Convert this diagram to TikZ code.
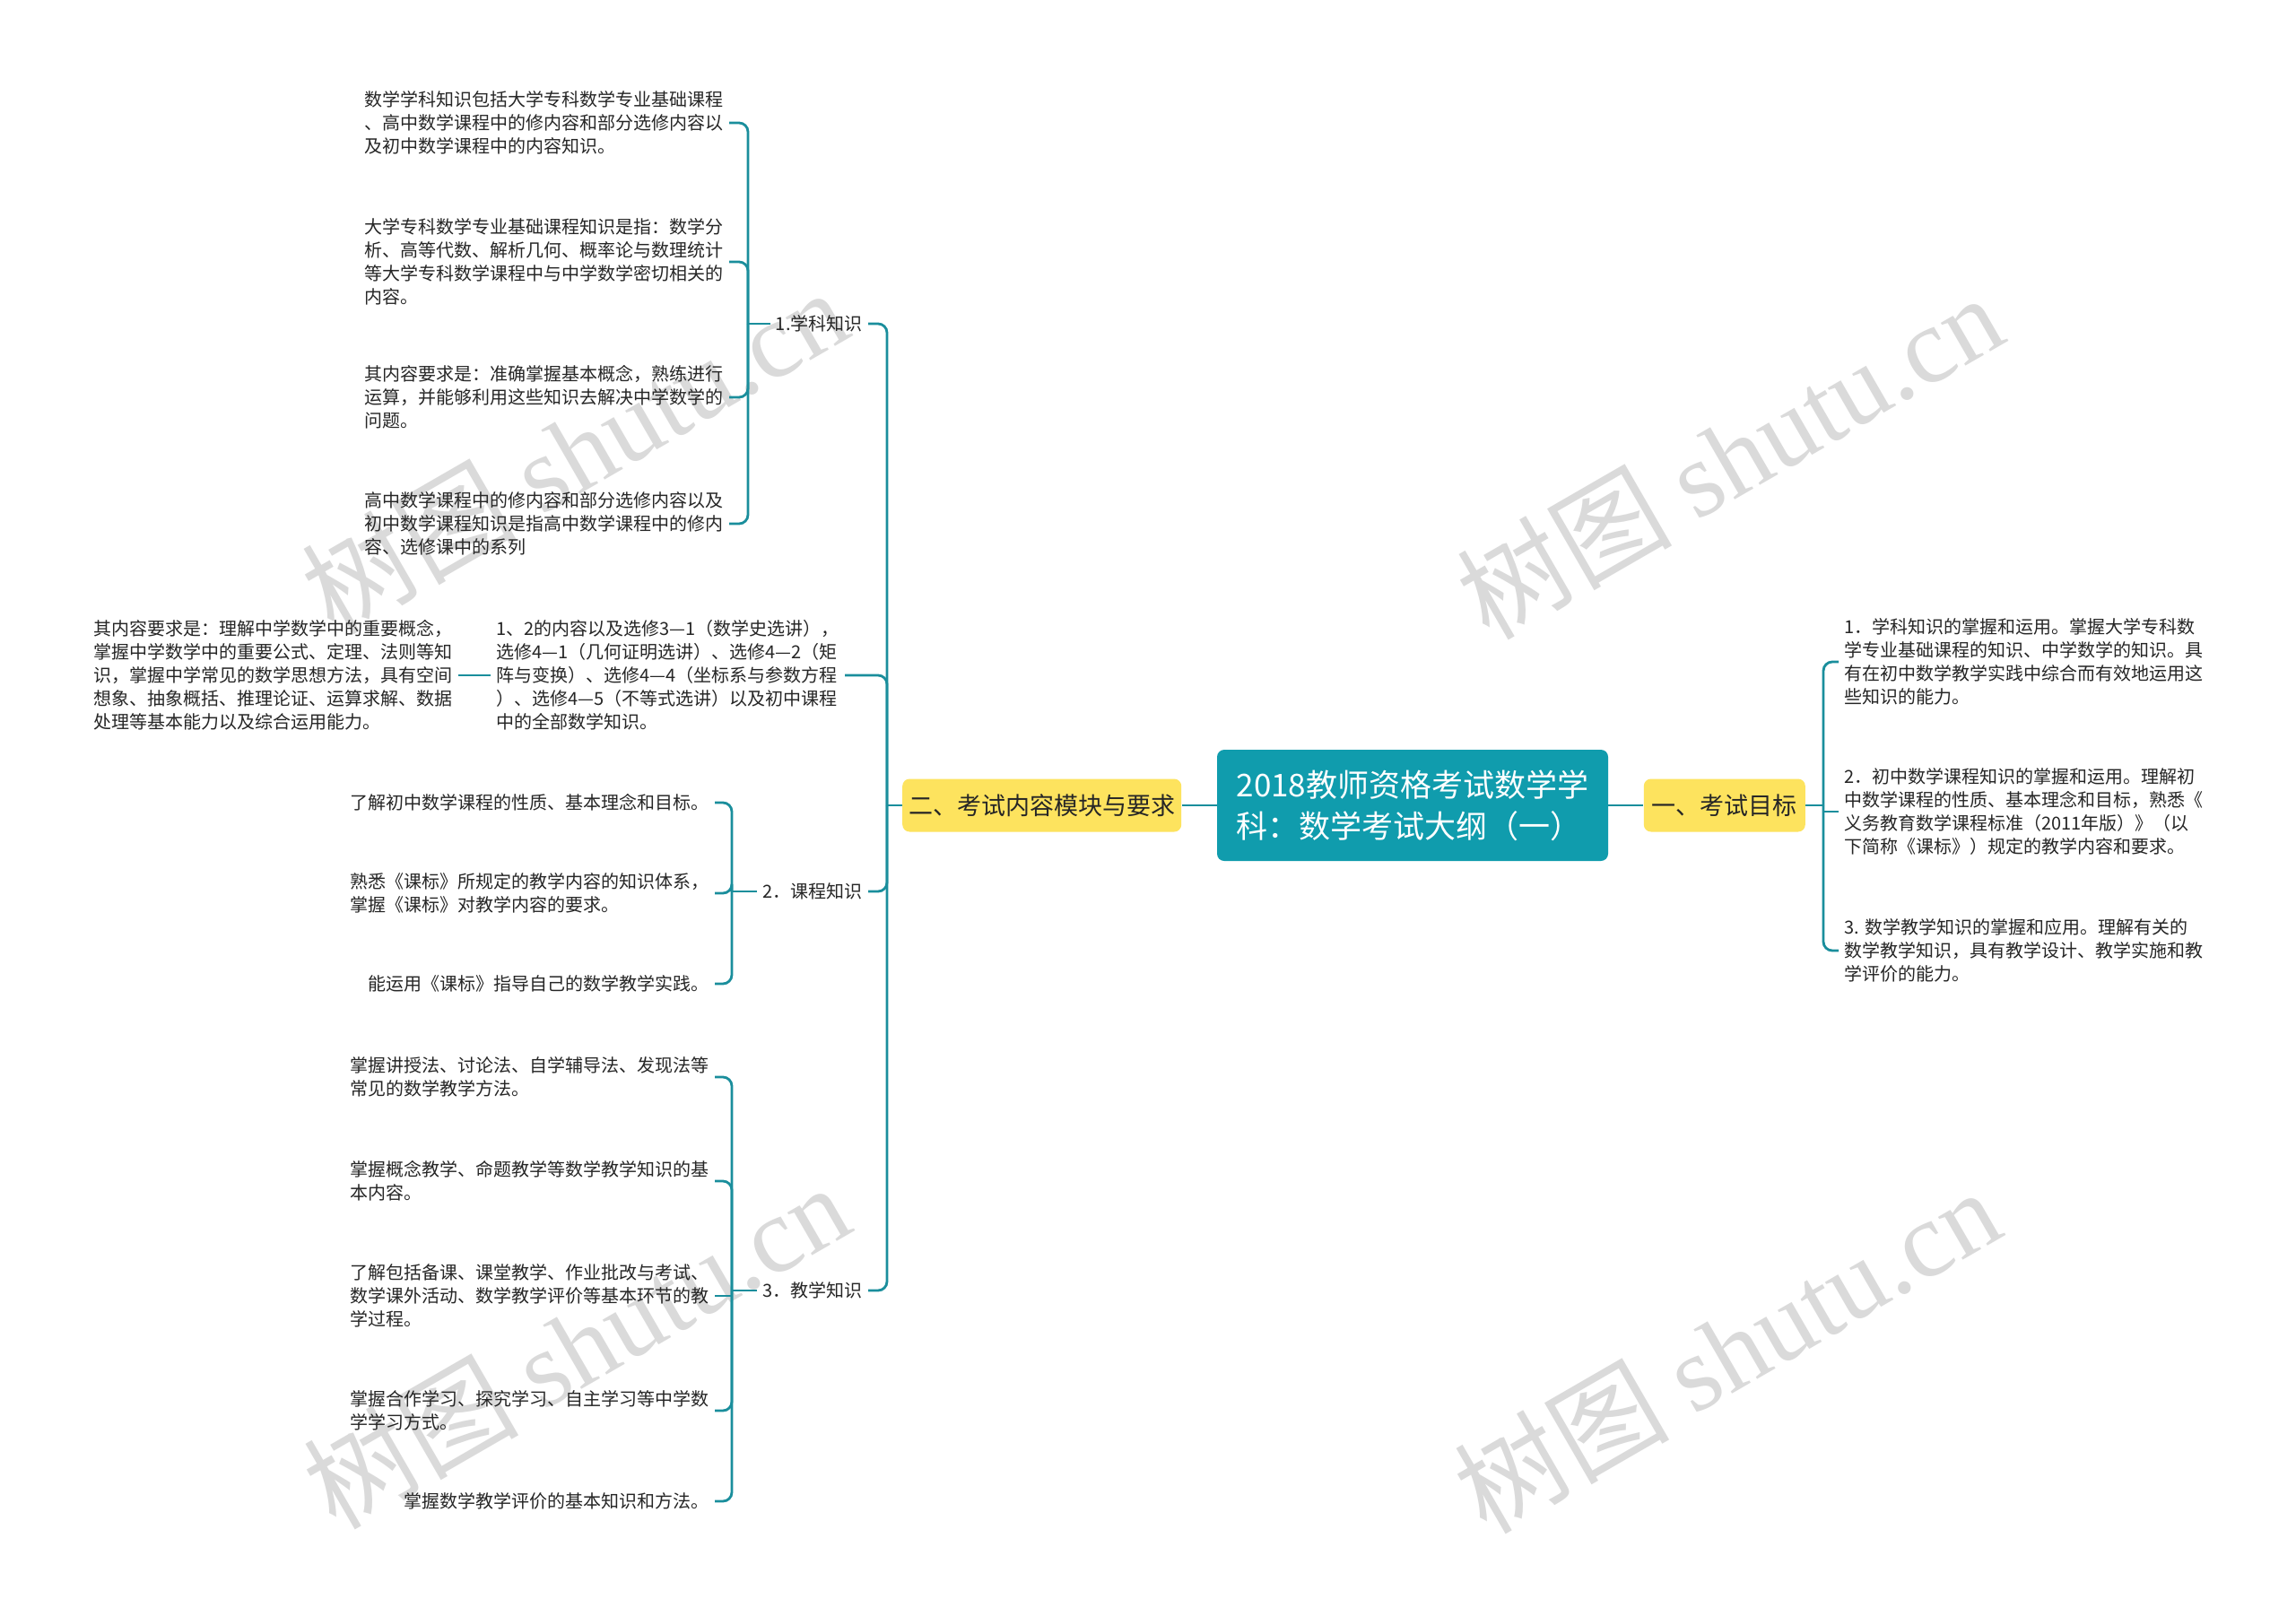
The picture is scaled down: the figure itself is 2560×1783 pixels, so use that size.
\documentclass[tikz,border=0pt]{standalone}
\usepackage{fontspec}
\setmainfont{Noto Sans CJK SC}
\newfontfamily\wmfont{Liberation Serif}
\usetikzlibrary{positioning}
\definecolor{rootteal}{HTML}{109CAD}
\definecolor{linkteal}{HTML}{1A8E9C}
\definecolor{topicyellow}{HTML}{FDE35E}
\definecolor{leaftext}{HTML}{262626}
\definecolor{wmgray}{HTML}{D4D4D4}

\begin{document}
\begin{tikzpicture}[x=0.5pt, y=-0.5pt,
    link/.style={draw=linkteal, line width=1.4pt, rounded corners=5pt},
    rootbox/.style={fill=rootteal, rounded corners=4pt, text=white, align=left,
        font=\fontsize{17.5}{23}\selectfont, minimum width=218pt, minimum height=62pt, inner sep=0pt},
    topic/.style={fill=topicyellow, rounded corners=4pt, text=leaftext,
        font=\fontsize{13.5}{16}\selectfont, minimum height=29.5pt, inner sep=0pt},
    sub/.style={text=leaftext, font=\fontsize{10}{13}\selectfont, inner xsep=3pt, inner ysep=1pt},
    leaf/.style={sub, align=left},
    watermark/.style={text=wmgray, opacity=0.85, rotate=30, font=\fontsize{60}{60}\selectfont}
]
    % Page
    \fill[white] (0,0) rectangle (2560,1783);
    \useasboundingbox (0,0) rectangle (2560,1783);

    % Watermarks (behind everything)
    \foreach \wx/\wy [count=\i] in {640/502, 1928/508, 642/1500, 1925/1505}
        \node[watermark] (wm\i) at (\wx,\wy) {树图 {\wmfont shutu.cn}};

    % Root and the two main topics
    \node[rootbox] (root) at (1575,898) {2018教师资格考试数学学\\科：数学考试大纲（一）};
    \node[topic, minimum width=90pt, right=19.5pt of root] (goal) {一、考试目标};
    \node[topic, minimum width=155.5pt, left=19.5pt of root] (module) {二、考试内容模块与要求};

    % Junction points of the brackets
    \coordinate (gj) at (2033,898);
    \coordinate (cj) at (989,898);
    \coordinate (k1j) at (834,361);
    \coordinate (k2j) at (816,994);
    \coordinate (k3j) at (816,1439);

    % Right side: exam goals
    \node[leaf, anchor=west] (r1) at (2050,738) {1．学科知识的掌握和运用。掌握大学专科数\\学专业基础课程的知识、中学数学的知识。具\\有在初中数学教学实践中综合而有效地运用这\\些知识的能力。};
    \node[leaf, anchor=west] (r2) at (2050,905) {2．初中数学课程知识的掌握和运用。理解初\\中数学课程的性质、基本理念和目标，熟悉《\\义务教育数学课程标准（2011年版）》（以\\下简称《课标》）规定的教学内容和要求。};
    \node[leaf, anchor=west] (r3) at (2050,1060) {3. 数学教学知识的掌握和应用。理解有关的\\数学教学知识，具有教学设计、教学实施和教\\学评价的能力。};

    % Left side: modules
    \node[sub, anchor=east] (k1) at (968,361) {1.学科知识};
    \node[leaf, anchor=west] (k12) at (547,753) {1、2的内容以及选修3—1（数学史选讲），\\选修4—1（几何证明选讲）、选修4—2（矩\\阵与变换）、选修4—4（坐标系与参数方程\\）、选修4—5（不等式选讲）以及初中课程\\中的全部数学知识。};
    \node[sub, anchor=east] (k2) at (968,994) {2．课程知识};
    \node[sub, anchor=east] (k3) at (968,1439) {3．教学知识};

    \node[leaf, anchor=east] (k12c) at (511,753) {其内容要求是：理解中学数学中的重要概念，\\掌握中学数学中的重要公式、定理、法则等知\\识，掌握中学常见的数学思想方法，具有空间\\想象、抽象概括、推理论证、运算求解、数据\\处理等基本能力以及综合运用能力。};

    % 1.学科知识
    \node[leaf, anchor=east] (s1a) at (813,137) {数学学科知识包括大学专科数学专业基础课程\\、高中数学课程中的修内容和部分选修内容以\\及初中数学课程中的内容知识。};
    \node[leaf, anchor=east] (s1b) at (813,292) {大学专科数学专业基础课程知识是指：数学分\\析、高等代数、解析几何、概率论与数理统计\\等大学专科数学课程中与中学数学密切相关的\\内容。};
    \node[leaf, anchor=east] (s1c) at (813,443) {其内容要求是：准确掌握基本概念，熟练进行\\运算，并能够利用这些知识去解决中学数学的\\问题。};
    \node[leaf, anchor=east] (s1d) at (813,584) {高中数学课程中的修内容和部分选修内容以及\\初中数学课程知识是指高中数学课程中的修内\\容、选修课中的系列};

    % 2．课程知识
    \node[leaf, anchor=east] (s2a) at (797,895) {了解初中数学课程的性质、基本理念和目标。};
    \node[leaf, anchor=east] (s2b) at (797,996) {熟悉《课标》所规定的教学内容的知识体系，\\掌握《课标》对教学内容的要求。};
    \node[leaf, anchor=east] (s2c) at (797,1097) {能运用《课标》指导自己的数学教学实践。};

    % 3．教学知识
    \node[leaf, anchor=east] (s3a) at (797,1201) {掌握讲授法、讨论法、自学辅导法、发现法等\\常见的数学教学方法。};
    \node[leaf, anchor=east] (s3b) at (797,1317) {掌握概念教学、命题教学等数学教学知识的基\\本内容。};
    \node[leaf, anchor=east] (s3c) at (797,1445) {了解包括备课、课堂教学、作业批改与考试、\\数学课外活动、数学教学评价等基本环节的教\\学过程。};
    \node[leaf, anchor=east] (s3d) at (797,1573) {掌握合作学习、探究学习、自主学习等中学数\\学学习方式。};
    \node[leaf, anchor=east] (s3e) at (797,1674) {掌握数学教学评价的基本知识和方法。};

    % Connectors
    \draw[link] (root.east) -- (goal.west);
    \draw[link] (root.west) -- (module.east);
    \draw[link] (goal.east) -- (gj);
    \foreach \n in {r1,r3}
        \draw[link] (gj) |- (\n.west);
    \draw[link] (r2.west) -- (r2.west -| gj);
    \draw[link] (module.west) -- (cj);
    \foreach \n in {k1,k12,k2,k3}
        \draw[link] (cj) |- (\n.east);
    \draw[link] (k12.west) -- (k12c.east);
    \draw[link] (k1.west) -- (k1j);
    \foreach \n in {s1a,s1b,s1c,s1d}
        \draw[link] (k1j) |- (\n.east);
    \draw[link] (k2.west) -- (k2j);
    \foreach \n in {s2a,s2b,s2c}
        \draw[link] (k2j) |- (\n.east);
    \draw[link] (k3.west) -- (k3j);
    \foreach \n in {s3a,s3b,s3d,s3e}
        \draw[link] (k3j) |- (\n.east);
    \draw[link] (s3c.east) -- (s3c.east -| k3j);
\end{tikzpicture}
\end{document}
